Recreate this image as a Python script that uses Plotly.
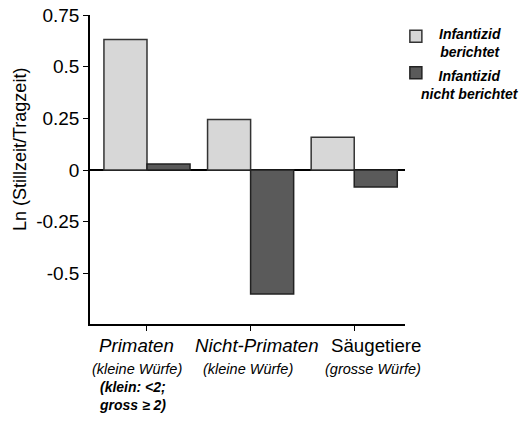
import plotly.graph_objects as go

categories = ["Primaten", "Nicht-Primaten", "Säugetiere"]
cat_main = ["<i>Primaten</i>", "<i>Nicht-Primaten</i>", "Säugetiere"]
cat_sub = ["<i>(kleine Würfe)</i>", "<i>(kleine Würfe)</i>", "<i>(grosse Würfe)</i>"]
berichtet = [0.631, 0.245, 0.159]
nicht_berichtet = [0.030, -0.599, -0.082]
ytick_vals = [-0.5, -0.25, 0, 0.25, 0.5, 0.75]
ytick_text = ["-0.5", "-0.25", "0", "0.25", "0.5", "0.75"]
x_pos = [0, 1, 2]

FONT = "Liberation Sans, Arial, sans-serif"

# plot area in pixels
L, R, T, B = 90, 405, 15, 324
PW, PH = R - L, B - T


def px(x):
    return (x - L) / PW


def py(y):
    return (B - y) / PH


fig = go.Figure()
fig.add_trace(go.Bar(
    x=x_pos, y=berichtet, name=" ",
    marker=dict(color="white",
                line=dict(color="#333333", width=1.5),
                pattern=dict(shape=".", size=2, solidity=0.5,
                             fgcolor="#8a8a8a", bgcolor="#ececec")),
    legend="legend",
))
fig.add_trace(go.Bar(
    x=x_pos, y=nicht_berichtet, name=" ",
    marker=dict(color="#5a5a5a", line=dict(color="#222222", width=1.5)),
    legend="legend2",
))

fig.update_layout(
    width=520, height=421,
    margin=dict(l=L, r=520 - R, t=T, b=421 - B, autoexpand=False),
    paper_bgcolor="white", plot_bgcolor="white",
    barmode="group", bargap=0.169, bargroupgap=0,
    font=dict(family=FONT, color="black"),
    showlegend=True,
    legend=dict(x=0.971, y=0.978, xanchor="left", yanchor="top",
                bgcolor="rgba(0,0,0,0)", font=dict(size=12)),
    legend2=dict(x=0.971, y=0.86, xanchor="left", yanchor="top",
                 bgcolor="rgba(0,0,0,0)", font=dict(size=12)),
)

fig.update_xaxes(
    range=[-0.55, 2.49],
    tickmode="array", tickvals=x_pos, ticktext=["", "", ""], tickangle=0,
    showline=True, linecolor="black", linewidth=1.5,
    ticks="outside", ticklen=5, tickwidth=1, tickcolor="black",
    showgrid=False, zeroline=False,
)
fig.update_yaxes(
    range=[-0.744, 0.75],
    tickmode="array", tickvals=ytick_vals, ticktext=ytick_text,
    tickfont=dict(size=19, family=FONT, color="black"),
    showline=True, linecolor="black", linewidth=1.5,
    ticks="outside", ticklen=5, tickwidth=1, tickcolor="black",
    showgrid=False,
    zeroline=True, zerolinecolor="black", zerolinewidth=1.5,
)

# category labels (offset from ticks, as in the reference)
main_shift = [-10.5, 6.5, 21.5]
sub_shift = [-9.5, -2.5, 18.5]
for i in range(len(categories)):
    fig.add_annotation(
        xref="x", yref="paper", x=x_pos[i], y=py(345), xshift=main_shift[i],
        xanchor="center", yanchor="middle", showarrow=False,
        text=cat_main[i], font=dict(size=18.7, family=FONT, color="black"),
    )
    fig.add_annotation(
        xref="x", yref="paper", x=x_pos[i], y=py(368.5), xshift=sub_shift[i],
        xanchor="center", yanchor="middle", showarrow=False,
        text=cat_sub[i], font=dict(size=14.5, family=FONT, color="black"),
    )

# y-axis title
fig.add_annotation(
    xref="paper", yref="paper", x=px(20), y=py(150),
    xanchor="center", yanchor="middle", showarrow=False, textangle=-90,
    text="Ln (Stillzeit/Tragzeit)",
    font=dict(size=18, family=FONT, color="black"),
)

fig.add_annotation(
    xref="paper", yref="paper", x=px(97), y=py(377),
    xanchor="left", yanchor="top", align="left", showarrow=False,
    text="<b><i>(klein: &lt;2;<br>gross ≥ 2)</i></b>",
    font=dict(size=14, family=FONT, color="black"),
)

# legend texts
fig.add_annotation(
    xref="paper", yref="paper", x=px(470), y=py(42.5),
    xanchor="center", yanchor="middle", align="center", showarrow=False,
    text="<b><i>Infantizid<br>berichtet</i></b>",
    font=dict(size=14, family=FONT, color="black"),
)
fig.add_annotation(
    xref="paper", yref="paper", x=px(470), y=py(85),
    xanchor="center", yanchor="middle", align="center", showarrow=False,
    text="<b><i>Infantizid<br>nicht berichtet</i></b>",
    font=dict(size=14, family=FONT, color="black"),
)

fig.write_html(
    "out.html",
    config={"displayModeBar": False},
    post_script="document.body.style.margin='0';document.body.style.overflow='hidden';",
)
